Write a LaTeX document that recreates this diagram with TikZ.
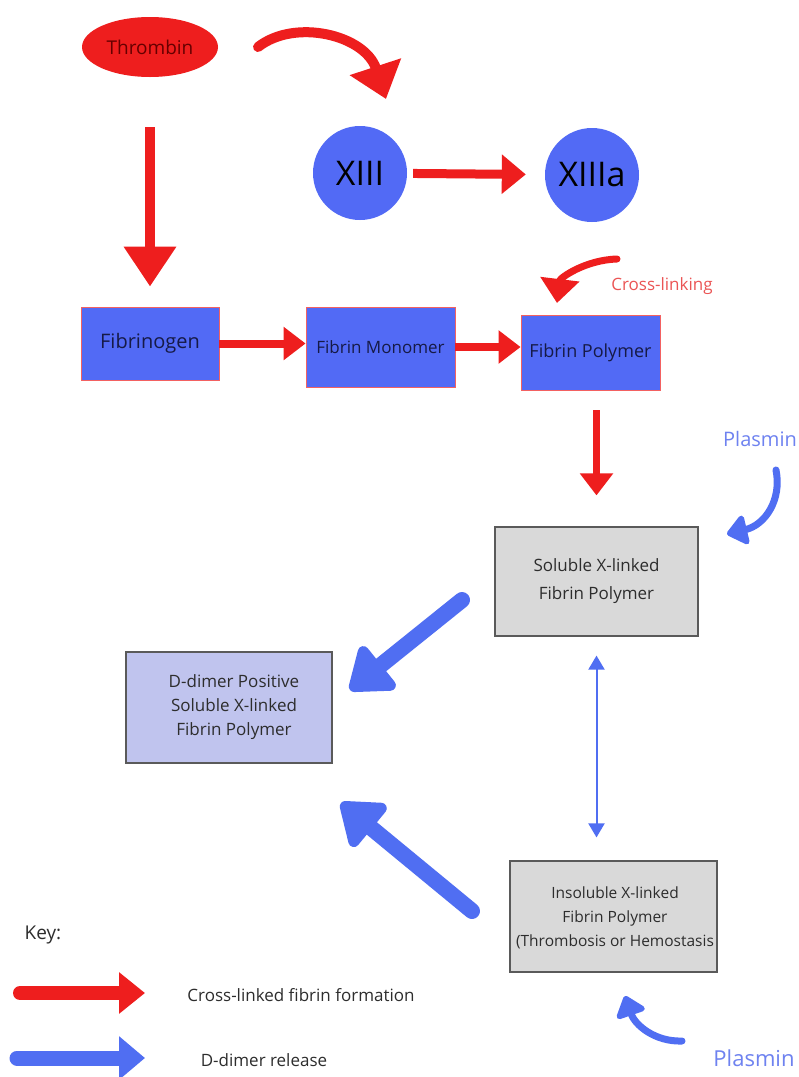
\documentclass[tikz,border=0pt]{standalone}
\usepackage{fontspec}
\setmainfont{Open Sans}
\usetikzlibrary{arrows.meta,shapes.geometric}
\definecolor{rd}{RGB}{238,30,30}
\definecolor{bfill}{RGB}{82,106,245}
\definecolor{barr}{RGB}{80,110,242}
\definecolor{ptext}{RGB}{110,130,240}
\definecolor{lav}{RGB}{192,196,238}
\definecolor{gfill}{RGB}{217,217,217}
\definecolor{gline}{RGB}{90,90,90}
\definecolor{navy}{RGB}{22,26,70}
\definecolor{txt}{RGB}{45,45,45}
\definecolor{xlink}{RGB}{235,85,85}
\begin{document}
\begin{tikzpicture}[x=1pt,y=-1pt,
  bluebox/.style={rectangle, fill=bfill, draw=rd!70!white, line width=0.8pt, inner sep=0pt, text=navy},
  graybox/.style={rectangle, fill=gfill, draw=gline, line width=1.2pt, inner sep=0pt, text=txt, align=center},
  lavbox/.style={rectangle, fill=lav, draw=gline, line width=1.2pt, inner sep=0pt, text=txt, align=center},
  redbig/.style={draw=rd, line width=10pt, -{Triangle[length=40pt,width=50pt]}},
  redmid/.style={draw=rd, line width=9pt, -{Triangle[length=24pt,width=38pt]}},
  redsmall/.style={draw=rd, line width=7pt, -{Triangle[length=22pt,width=32pt]}},
  bluebig/.style={draw=barr, line width=16pt, line cap=round, -{Triangle[length=44pt,width=62pt,round]}},
  bluecurve/.style={draw=barr, line width=7pt, line cap=round, -{Triangle[length=22pt,width=34pt,round]}},
  bluethin/.style={draw=barr, line width=2pt, {Triangle[length=14pt,width=16pt]}-{Triangle[length=14pt,width=16pt]}},
  lbl/.style={inner sep=0pt, text=txt}
]
\useasboundingbox (0,0) rectangle (799,1077);
\fill[white] (0,0) rectangle (799,1077);

% nodes
\node (thr) [ellipse, fill=rd, minimum width=136pt, minimum height=60pt, inner sep=0pt, text=red!40!black, font=\fontsize{19}{22}\selectfont] at (150,47) {Thrombin};
\node (x13) [circle, fill=bfill, minimum size=94pt, inner sep=0pt, text=black, font=\fontsize{34}{40}\selectfont] at (360,173) {XIII};
\node (x13a) [circle, fill=bfill, minimum size=94pt, inner sep=0pt, text=black, font=\fontsize{34}{40}\selectfont] at (592,175) {XIIIa};

\node (fgn) [bluebox, minimum width=138pt, minimum height=73pt, font=\fontsize{20}{24}\selectfont] at (150,343.5) {Fibrinogen};
\node (fmo) [bluebox, minimum width=149pt, minimum height=80pt, font=\fontsize{17}{20}\selectfont] at (380.5,347) {Fibrin Monomer};
\node (fpo) [bluebox, minimum width=139pt, minimum height=75pt, font=\fontsize{18}{22}\selectfont] at (590.5,352.5) {Fibrin Polymer};

\node (xl) [lbl, text=xlink, font=\fontsize{17}{20}\selectfont] at (662,286) {Cross-linking};

\node (sol) [graybox, minimum width=203pt, minimum height=109pt, font=\fontsize{17}{28}\selectfont] at (596.5,581.5) {Soluble X-linked\\Fibrin Polymer};
\node (dd) [lavbox, minimum width=206pt, minimum height=111pt, font=\fontsize{17}{24}\selectfont] at (229,707.5) {\hspace*{10pt}D-dimer Positive\\\hspace*{10pt}Soluble X-linked\\\hspace*{10pt}Fibrin Polymer};
\node (ins) [graybox, minimum width=207pt, minimum height=111pt, font=\fontsize{15.5}{24}\selectfont] at (613.5,916.5) {};
\node (instext) [lbl, align=center, font=\fontsize{15.5}{24}\selectfont] at (615,918) {Insoluble X-linked\\Fibrin Polymer\\(Thrombosis or Hemostasis};

\node (pl1) [lbl, text=ptext, font=\fontsize{20}{24}\selectfont] at (760,439) {Plasmin};
\node (pl2) [lbl, text=ptext, font=\fontsize{22}{26}\selectfont] at (754,1058) {Plasmin};

\node (key) [lbl, font=\fontsize{19}{22}\selectfont] at (43,935) {Key:};
\node (k1) [lbl, font=\fontsize{17}{20}\selectfont] at (301,995) {Cross-linked fibrin formation};
\node (k2) [lbl, font=\fontsize{17}{20}\selectfont] at (264,1060) {D-dimer release};

% coordinates for free ends
\coordinate (c1s) at (258,47);
\coordinate (c1e) at (386,99);
\coordinate (c2s) at (617,259);
\coordinate (c2e) at (557,303);
\coordinate (c3s) at (776,470);
\coordinate (c3e) at (727,534);
\coordinate (c4s) at (682,1041);
\coordinate (c4e) at (625,996);
\coordinate (b1s) at (462,600);
\coordinate (b1e) at (350,690);
\coordinate (b2s) at (472,911);
\coordinate (b2e) at (341,803);
\coordinate (kr1) at (20,993);
\coordinate (kr2) at (145,993);
\coordinate (kb1) at (17,1058);
\coordinate (kb2) at (145,1058);

% red connectors
\draw[redbig] (thr) -- (fgn) [shorten <=50pt, shorten >=20pt];
\draw[redmid] (x13) -- (x13a) [shorten <=6pt, shorten >=19pt];
\draw[redsmall, line width=8pt] (fgn.east) -- (fgn.east -| fmo.west);
\draw[redsmall, line width=8pt] (fmo.east) -- (fmo.east -| fpo.west);
\draw[redsmall] (fpo.south -| sol.north) -- (sol.north) [shorten <=20pt, shorten >=31pt];
\draw[draw=rd, line width=10pt, line cap=round, -{Triangle[length=34pt,width=52pt]}] (c1s) .. controls (295,18) and (365,35) .. (c1e);
\draw[draw=rd, line width=7pt, line cap=round, -{Triangle[length=24pt,width=38pt]}] (c2s) .. controls (585,260) and (560,278) .. (c2e);

% blue connectors
\draw[bluebig] (b1s) -- (b1e);
\draw[bluebig] (b2s) -- (b2e);
\draw[bluethin] (sol.south) -- (sol.south |- ins.north) [shorten <=19pt, shorten >=23pt];
\draw[bluecurve] (c3s) .. controls (782,500) and (765,525) .. (c3e);
\draw[bluecurve] (c4s) .. controls (655,1042) and (635,1025) .. (c4e);

% key arrows
\draw[draw=rd, line width=14pt, line cap=round, -{Triangle[length=26pt,width=40pt]}] (kr1) -- (kr2);
\draw[draw=barr, line width=15pt, line cap=round, -{Triangle[length=26pt,width=42pt]}] (kb1) -- (kb2);
\end{tikzpicture}
\end{document}
